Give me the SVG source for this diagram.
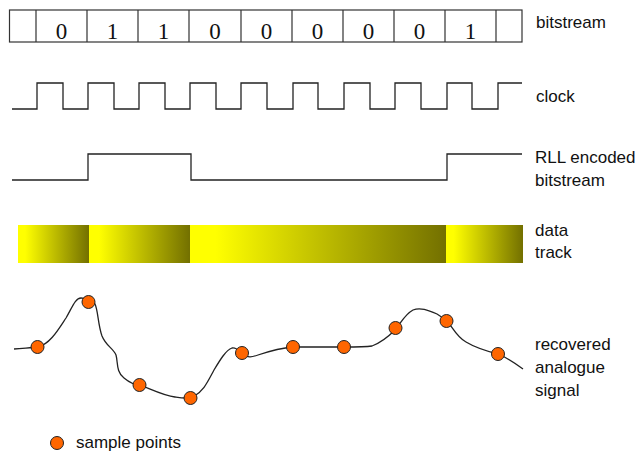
<svg xmlns="http://www.w3.org/2000/svg" width="636" height="456" viewBox="0 0 636 456">
<style>
.lbl{font-family:"Liberation Sans","DejaVu Sans",sans-serif;font-size:17px;fill:#111}
.bit{font-family:"Liberation Serif","Times New Roman",serif;font-size:23px;fill:#111;text-anchor:middle}
.wave{fill:none;stroke:#222;stroke-width:1.3}
.box{fill:none;stroke:#333;stroke-width:1.2}
.pt{fill:#ff6600;stroke:#222;stroke-width:1}
.trk{stroke:none}
</style>
<defs>
<linearGradient id="g" x1="0" y1="0" x2="1" y2="0">
<stop offset="0" stop-color="#ffff00"/>
<stop offset="0.1" stop-color="#ffff00"/>
<stop offset="1" stop-color="#737000"/>
</linearGradient>
</defs>
<rect width="636" height="456" fill="#fff"/>
<g id="bitstream">
<rect class="box" x="9.5" y="10" width="512.5" height="32"/>
<path class="box" d="M36 10V42M87 10V42M138 10V42M189 10V42M241 10V42M292 10V42M343 10V42M394 10V42M445 10V42M496 10V42"/>
<text class="bit" x="61.5" y="39">0</text>
<text class="bit" x="112.5" y="39">1</text>
<text class="bit" x="163.5" y="39">1</text>
<text class="bit" x="215" y="39">0</text>
<text class="bit" x="266.5" y="39">0</text>
<text class="bit" x="317.5" y="39">0</text>
<text class="bit" x="368.5" y="39">0</text>
<text class="bit" x="419.5" y="39">0</text>
<text class="bit" x="470.5" y="39">1</text>
<text class="lbl" x="536" y="28">bitstream</text>
</g>
<g id="clock">
<path class="wave" stroke="#444" d="M12 109H37V83H63V109H88V83H114V109H139V83H165V109H190V83H216V109H241V83H267V109H293V83H318V109H344V83H370V109H395V83H421V109H447V83H472V109H498V83H522"/>
<text class="lbl" x="536" y="102">clock</text>
</g>
<g id="rll">
<path class="wave" d="M12 180H88V154H191V180H447V154H522"/>
<text class="lbl" x="535" y="163">RLL encoded</text>
<text class="lbl" x="535" y="186">bitstream</text>
</g>
<g id="datatrack">
<rect class="trk" x="18" y="225" width="71" height="38" fill="url(#g)"/>
<rect class="trk" x="89" y="225" width="101" height="38" fill="url(#g)"/>
<rect class="trk" x="190" y="225" width="256" height="38" fill="url(#g)"/>
<rect class="trk" x="446" y="225" width="77" height="38" fill="url(#g)"/>
<text class="lbl" x="535" y="236">data</text>
<text class="lbl" x="535" y="258">track</text>
</g>
<g id="signal">
<path class="wave" stroke-width="1.2" d="M14 349C25 348 32 348 38 347C50 344 58 330 66 318C72 308 75 298 81 298C86 298 90 300 95 304C98 310 98 325 102 336C106 346 113 348 116 355C118 362 116 372 124 378C130 383 136 385 140 385C155 391 165 396 175 397C182 398 188 399 193 397C204 391 208 381 214 370C220 360 226 350 232 348C237 347 240 352 244 355C248 358 252 357 258 355C270 351 280 348 293 347C310 347 335 347 344 347C355 347 365 347 372 346C380 343 388 337 395 330C402 322 404 315 413 310C420 307 428 310 437 314C442 317 445 320 448 322C454 330 458 338 466 342C476 348 486 351 498 354C506 357 512 361 523 369"/>
<circle class="pt" cx="37.5" cy="347" r="6.5"/>
<circle class="pt" cx="88.5" cy="302" r="6.5"/>
<circle class="pt" cx="139.5" cy="385" r="6.5"/>
<circle class="pt" cx="190.5" cy="398" r="6.5"/>
<circle class="pt" cx="242" cy="353" r="6.5"/>
<circle class="pt" cx="293" cy="347" r="6.5"/>
<circle class="pt" cx="344" cy="347" r="6.5"/>
<circle class="pt" cx="395.5" cy="328" r="6.5"/>
<circle class="pt" cx="446.5" cy="321" r="6.5"/>
<circle class="pt" cx="498" cy="354" r="6.5"/>
<text class="lbl" x="535" y="350">recovered</text>
<text class="lbl" x="535" y="373">analogue</text>
<text class="lbl" x="535" y="396">signal</text>
</g>
<g id="legend">
<circle class="pt" cx="57" cy="443" r="6.5"/>
<text class="lbl" x="76" y="448">sample points</text>
</g>
</svg>
